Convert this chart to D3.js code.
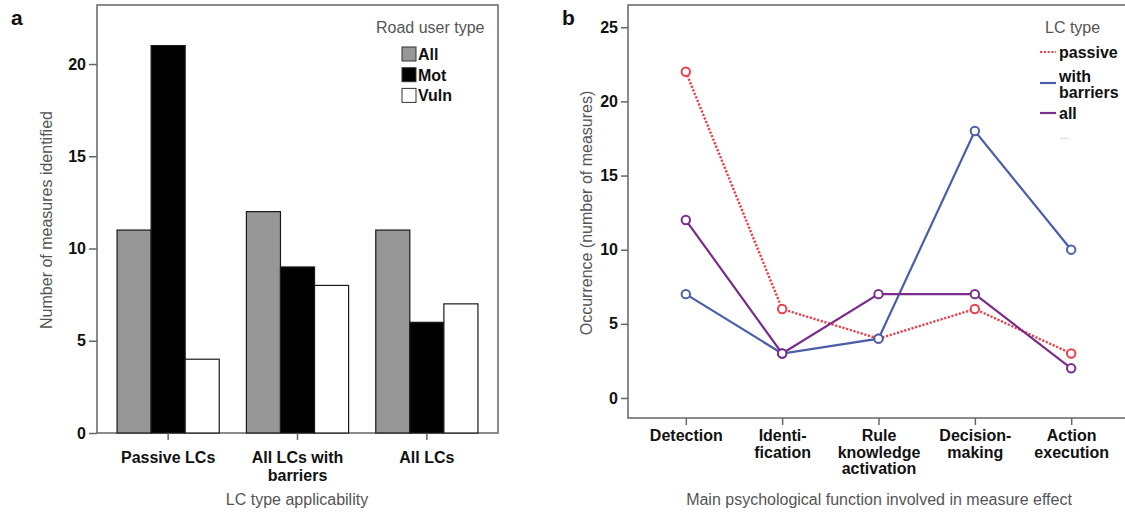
<!DOCTYPE html>
<html>
<head>
<meta charset="utf-8">
<script src="https://cdn.jsdelivr.net/npm/d3@7"></script>
<style>
  body { margin: 0; background: #fff; }
  svg { font-family: "Liberation Sans", Arial, sans-serif; }
</style>
</head>
<body>
<svg id="chart" width="1125" height="512"></svg>
<script>
// panel a data
var lcTypes = ["Passive LCs", "All LCs with\nbarriers", "All LCs"];
var userTypes = ["All", "Mot", "Vuln"];
var measuresAll = [11, 12, 11];
var measuresMot = [21, 9, 6];
var measuresVuln = [4, 8, 7];
var yTicksA = [0, 5, 10, 15, 20];

// panel b data
var functions = ["Detection", "Identi-\nfication", "Rule\nknowledge\nactivation", "Decision-\nmaking", "Action\nexecution"];
var lcSeries = ["passive", "with\nbarriers", "all"];
var occPassive = [22, 6, 4, 6, 3];
var occBarriers = [7, 3, 4, 18, 10];
var occAll = [12, 3, 7, 7, 2];
var yTicksB = [0, 5, 10, 15, 20, 25];

var svg = d3.select("#chart");
var frameColor = "#666";
var textGrey = "#555";

function multiline(sel, lineH) {
  sel.each(function(d) {
    var t = d3.select(this);
    var lines = d.split("\n");
    t.text(null);
    lines.forEach(function(l, i) {
      t.append("tspan").attr("x", 0).attr("dy", i == 0 ? "0.71em" : lineH).text(l);
    });
  });
}

// ---------- panel a ----------
var xA = d3.scaleBand().domain(lcTypes).range([97, 498]).paddingInner(0.21).paddingOuter(0.155);
var xSub = d3.scaleBand().domain(userTypes).range([0, xA.bandwidth()]);
var yA = d3.scaleLinear().domain([0, 23.2]).range([433, 5]);
var fillA = d3.scaleOrdinal().domain(userTypes).range(["#979797", "#000000", "#ffffff"]);

var barRows = [];
lcTypes.forEach(function(c, i) {
  barRows.push({cat: c, type: "All", v: measuresAll[i]});
  barRows.push({cat: c, type: "Mot", v: measuresMot[i]});
  barRows.push({cat: c, type: "Vuln", v: measuresVuln[i]});
});

var gA = svg.append("g");
gA.append("rect").attr("x", 97).attr("y", 5).attr("width", 401).attr("height", 428)
  .attr("fill", "none").attr("stroke", frameColor).attr("stroke-width", 1.5);

gA.selectAll("rect.bar").data(barRows).enter().append("rect")
  .attr("class", "bar")
  .attr("x", function(d) { return xA(d.cat) + xSub(d.type); })
  .attr("y", function(d) { return yA(d.v); })
  .attr("width", xSub.bandwidth())
  .attr("height", function(d) { return yA(0) - yA(d.v); })
  .attr("fill", function(d) { return fillA(d.type); })
  .attr("stroke", "#1a1a1a").attr("stroke-width", 1.2);

var axYA = gA.append("g").attr("transform", "translate(97,0)")
  .call(d3.axisLeft(yA).tickValues(yTicksA).tickSize(8).tickPadding(3));
var axXA = gA.append("g").attr("transform", "translate(0,433)")
  .call(d3.axisBottom(xA).tickSize(7).tickPadding(12));
axXA.selectAll("text").call(multiline, "1.12em");

[axYA, axXA].forEach(function(ax) {
  ax.select(".domain").remove();
  ax.selectAll("line").attr("stroke", frameColor).attr("stroke-width", 1.5);
  ax.selectAll("text").attr("font-size", 16).attr("font-weight", "bold").attr("fill", "#111");
});

gA.append("text").attr("transform", "translate(52,220) rotate(-90)")
  .attr("text-anchor", "middle").attr("font-size", 16).attr("fill", textGrey)
  .text("Number of measures identified");
gA.append("text").attr("x", 297).attr("y", 505).attr("text-anchor", "middle")
  .attr("font-size", 16).attr("fill", textGrey).text("LC type applicability");
gA.append("text").attr("x", 11).attr("y", 25).attr("font-size", 21).attr("font-weight", "bold")
  .attr("fill", "#111").text("a");

// legend a
var legA = gA.append("g").attr("transform", "translate(402,0)");
legA.append("text").attr("x", -26).attr("y", 33).attr("font-size", 16).attr("fill", textGrey)
  .text("Road user type");
var legARows = legA.selectAll("g.row").data(userTypes).enter().append("g")
  .attr("transform", function(d, i) { return "translate(0," + (47 + i * 20.7) + ")"; });
legARows.append("rect").attr("width", 14).attr("height", 14)
  .attr("fill", function(d) { return fillA(d); }).attr("stroke", "#333").attr("stroke-width", 1);
legARows.append("text").attr("x", 16).attr("y", 13).attr("font-size", 16)
  .attr("font-weight", "bold").attr("fill", "#111").text(function(d) { return d; });

// ---------- panel b ----------
var xB = d3.scalePoint().domain(functions).range([628, 1129]).padding(0.6);
var yB = d3.scaleLinear().domain([-1.35, 26.5]).range([418, 5]);
var colorB = d3.scaleOrdinal().domain(lcSeries).range(["#e8414c", "#4a5ea9", "#7a2c8b"]);
var dashB = d3.scaleOrdinal().domain(lcSeries).range(["2.2,1.6", null, null]);

var seriesB = [
  {name: lcSeries[0], values: occPassive},
  {name: lcSeries[1], values: occBarriers},
  {name: lcSeries[2], values: occAll}
];

var gB = svg.append("g");
gB.append("rect").attr("x", 628).attr("y", 5).attr("width", 520).attr("height", 413)
  .attr("fill", "none").attr("stroke", frameColor).attr("stroke-width", 1.5);

var lineB = d3.line()
  .x(function(d, i) { return xB(functions[i]); })
  .y(function(d) { return yB(d); });

var sg = gB.selectAll("g.series").data(seriesB).enter().append("g").attr("class", "series");
sg.append("path")
  .attr("d", function(d) { return lineB(d.values); })
  .attr("fill", "none")
  .attr("stroke", function(d) { return colorB(d.name); })
  .attr("stroke-width", function(d) { return d.name == "passive" ? 2.4 : 2.2; })
  .attr("stroke-dasharray", function(d) { return dashB(d.name); });
sg.selectAll("circle").data(function(d) {
    return d.values.map(function(v, i) { return {name: d.name, v: v, i: i}; });
  }).enter().append("circle")
  .attr("cx", function(d) { return xB(functions[d.i]); })
  .attr("cy", function(d) { return yB(d.v); })
  .attr("r", 4.2)
  .attr("fill", "#fff")
  .attr("stroke", function(d) { return colorB(d.name); })
  .attr("stroke-width", 2);

var axYB = gB.append("g").attr("transform", "translate(628,0)")
  .call(d3.axisLeft(yB).tickValues(yTicksB).tickSize(7).tickPadding(3));
var axXB = gB.append("g").attr("transform", "translate(0,418)")
  .call(d3.axisBottom(xB).tickSize(7).tickPadding(5));
axXB.selectAll("text").call(multiline, "1.03em");

[axYB, axXB].forEach(function(ax) {
  ax.select(".domain").remove();
  ax.selectAll("line").attr("stroke", frameColor).attr("stroke-width", 1.5);
  ax.selectAll("text").attr("font-size", 16).attr("font-weight", "bold").attr("fill", "#111");
});

gB.append("text").attr("transform", "translate(592,213) rotate(-90)")
  .attr("text-anchor", "middle").attr("font-size", 16).attr("fill", textGrey)
  .text("Occurrence (number of measures)");
gB.append("text").attr("x", 879).attr("y", 505).attr("text-anchor", "middle")
  .attr("font-size", 16).attr("fill", textGrey).text("Main psychological function involved in measure effect");
gB.append("text").attr("x", 562).attr("y", 25).attr("font-size", 21).attr("font-weight", "bold")
  .attr("fill", "#111").text("b");

// legend b
var legB = gB.append("g").attr("transform", "translate(1040,0)");
legB.append("text").attr("x", 5).attr("y", 33).attr("font-size", 16).attr("fill", textGrey).text("LC type");
var legBY = [52, 83, 113];
var legBRows = legB.selectAll("g.row").data(lcSeries).enter().append("g")
  .attr("transform", function(d, i) { return "translate(0," + legBY[i] + ")"; });
legBRows.append("line").attr("x1", 0).attr("x2", 16)
  .attr("stroke", function(d) { return colorB(d); }).attr("stroke-width", 2.2)
  .attr("stroke-dasharray", function(d) { return dashB(d); });
legBRows.append("text").attr("x", 19).attr("font-size", 16).attr("font-weight", "bold").attr("fill", "#111")
  .each(function(d) {
    var t = d3.select(this);
    var lines = d.split("\n");
    var y0 = lines.length > 1 ? -7 : 0;
    lines.forEach(function(l, i) {
      t.append("tspan").attr("x", 19).attr("y", y0 + i * 16.5).attr("dy", "0.35em").text(l);
    });
  });
legB.append("text").attr("x", 20).attr("y", 139).attr("font-size", 10).attr("fill", "#aaa").text("...");
</script>
</body>
</html>
